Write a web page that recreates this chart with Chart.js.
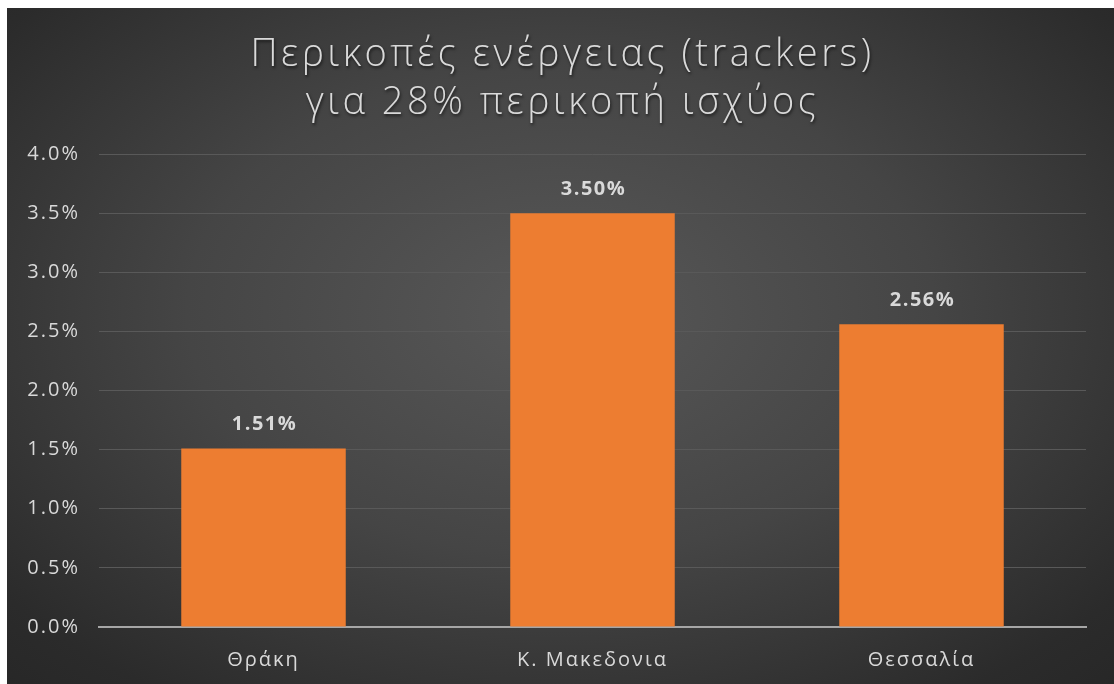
<!DOCTYPE html>
<html>
<head>
<meta charset="utf-8">
<script src="https://cdn.jsdelivr.net/npm/chart.js@4"></script>
<style>
  html, body { margin: 0; padding: 0; background: #fff; }
  #frame {
    position: absolute; left: 7px; top: 8px; width: 1107px; height: 676px;
    background: radial-gradient(ellipse 75% 80% at 50% 45%, #585858 0%, #454545 45%, #2b2b2b 85%, #262626 100%);
  }
</style>
</head>
<body>
<div id="frame"><canvas id="chart"></canvas></div>
<script>
const regions = ['Θράκη', 'Κ. Μακεδονια', 'Θεσσαλία'];
const energyCut = [1.51, 3.50, 2.56];
const titleLines = ['Περικοπές ενέργειας (trackers)', 'για 28% περικοπή ισχύος'];

const textColor = '#d9d9d9';
const fontFamily = '"Open Sans", "DejaVu Sans", sans-serif';

// wider letter spacing to get closer to the original geometric font
const spacing = {
  id: 'spacing',
  beforeUpdate(chart) { chart.ctx.letterSpacing = '2px'; },
  beforeDraw(chart) { chart.ctx.letterSpacing = '2px'; }
};

const titleDraw = {
  id: 'titleDraw',
  afterDraw(chart) {
    const ctx = chart.ctx;
    ctx.save();
    ctx.letterSpacing = '3.5px';
    ctx.font = '300 38px ' + fontFamily;
    ctx.fillStyle = textColor;
    ctx.textAlign = 'center';
    ctx.textBaseline = 'middle';
    ctx.shadowColor = 'rgba(0,0,0,0.6)';
    ctx.shadowBlur = 3;
    ctx.shadowOffsetX = 1;
    ctx.shadowOffsetY = 2;
    const cx = chart.width / 2 + 2;
    titleLines.forEach((line, i) => ctx.fillText(line, cx, 47 + i * 48));
    ctx.restore();
  }
};

const valueLabels = {
  id: 'valueLabels',
  afterDatasetsDraw(chart) {
    const ctx = chart.ctx;
    const meta = chart.getDatasetMeta(0);
    ctx.save();
    ctx.letterSpacing = '1.5px';
    ctx.font = 'bold 20px ' + fontFamily;
    ctx.fillStyle = textColor;
    ctx.textAlign = 'center';
    ctx.textBaseline = 'middle';
    meta.data.forEach((bar, i) => {
      ctx.fillText(energyCut[i].toFixed(2) + '%', bar.x + 1, bar.y - 24);
    });
    ctx.restore();
  }
};

new Chart(document.getElementById('chart'), {
  type: 'bar',
  data: {
    labels: regions,
    datasets: [{
      data: energyCut,
      backgroundColor: '#ED7D31',
      borderWidth: 0,
      barPercentage: 1,
      categoryPercentage: 0.5
    }]
  },
  options: {
    responsive: true,
    maintainAspectRatio: false,
    animation: false,
    layout: { padding: { top: 146, right: 28, left: 0, bottom: 0 } },
    plugins: {
      legend: { display: false },
      title: { display: false },
      tooltip: { enabled: false }
    },
    scales: {
      x: {
        grid: { display: false, drawTicks: false },
        border: { color: '#a6a6a6', width: 2 },
        ticks: { color: textColor, font: { family: fontFamily, size: 20 }, padding: 21 },
        afterFit(scale) { scale.height = 57; }
      },
      y: {
        min: 0,
        max: 4,
        ticks: {
          stepSize: 0.5,
          color: textColor,
          font: { family: fontFamily, size: 20 },
          padding: 19,
          callback: v => v.toFixed(1) + '%'
        },
        grid: { color: '#595959', lineWidth: 1, drawTicks: false },
        border: { display: false },
        afterFit(scale) { scale.width = 92; }
      }
    }
  },
  plugins: [spacing, titleDraw, valueLabels]
});
</script>
</body>
</html>
